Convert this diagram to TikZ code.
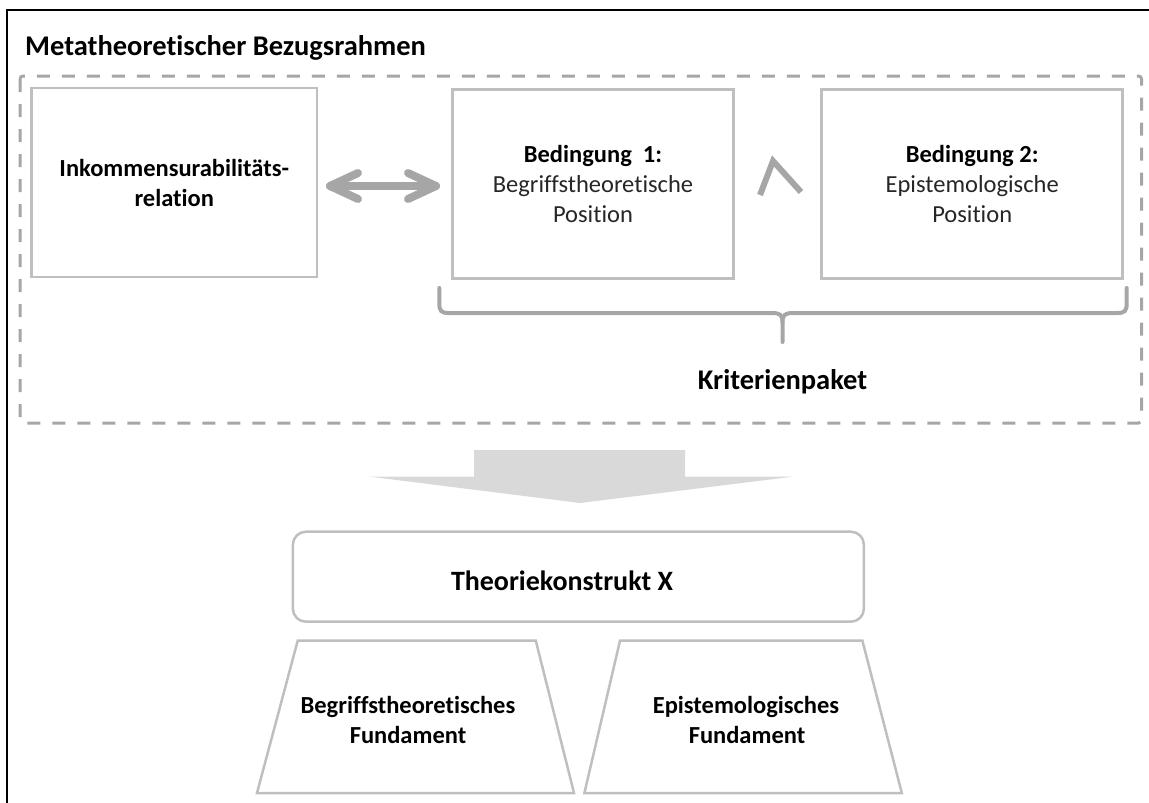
\documentclass[tikz,border=0pt]{standalone}
\usepackage{fontspec}
\setmainfont{Carlito}[Ligatures=NoCommon]
\usetikzlibrary{calc}
\definecolor{boxgray}{HTML}{BFBFBF}
\definecolor{dashgray}{HTML}{A6A6A6}
\definecolor{arrowfill}{HTML}{D9D9D9}
\definecolor{bodytext}{HTML}{262626}

\begin{document}
\begin{tikzpicture}[x=1pt,y=-1pt,
  box/.style={draw=boxgray,line width=2.5pt,inner sep=0pt,align=center,
    font=\fontsize{24.5}{30}\selectfont},
  shapeline/.style={draw=boxgray,line width=2.5pt,line join=miter},
  marker/.style={draw=dashgray,line cap=round,line join=round},
  label/.style={anchor=base,inner sep=0pt,font=\bfseries\fontsize{24.5}{30}\selectfont},
  headline/.style={anchor=base west,inner sep=0pt,font=\bfseries\fontsize{28.5}{34}\selectfont}
]
\useasboundingbox (0,0) rectangle (1149,803);
\clip (0,0) rectangle (1149,803);

% outer frame
\draw[black,line width=2pt] (7,10) rectangle (1200,850);

% title
\node[headline] (title) at (25,55) {Metatheoretischer Bezugsrahmen};

% dashed frame of the reference framework
\draw[dashgray,line width=3pt,dash pattern=on 13pt off 12pt,rounded corners=3pt]
  (20,76) rectangle (1141.5,423);

% the three boxes
\node[box,minimum width=285.5pt,minimum height=189pt] (inkomm) at (174.25,182.5)
  {\bfseries Inkommensurabilitäts-\\\bfseries relation};
\node[box,minimum width=280.6pt,minimum height=189pt] (bed1) at (593,184)
  {\bfseries Bedingung\ \ 1:\\{\color{bodytext}Begriffstheoretische}\\{\color{bodytext}Position}};
\node[box,minimum width=301pt,minimum height=189pt] (bed2) at (972.2,184)
  {\bfseries Bedingung 2:\\{\color{bodytext}Epistemologische}\\{\color{bodytext}Position}};

% double arrow between relation and first condition
\coordinate (dl) at (330,186);
\coordinate (dr) at (436,186);
\draw[marker,line width=8pt] (dl) -- (dr);
\draw[marker,line width=8pt] ($(dl)+(28,-13)$) -- (dl) -- ($(dl)+(28,13)$);
\draw[marker,line width=8pt] ($(dr)+(-28,-13)$) -- (dr) -- ($(dr)+(-28,13)$);

% logical and between the two conditions
\coordinate (wl) at (760,195);
\coordinate (wt) at (773,161);
\coordinate (wr) at (801,192);
\draw[dashgray,line width=6pt,line join=miter] (wl) -- (wt) -- (wr);

% brace below both conditions
\coordinate (bl) at (439.3,288);
\coordinate (br) at (1126.7,288);
\coordinate (bt) at (782.5,342);
\draw[dashgray,line width=4pt,line cap=round]
  (bl) -- (439.3,303) .. controls (439.3,311) and (441,313) .. (449,313)
  -- (772,313) .. controls (780,313) and (782.5,315) .. (782.5,322) -- (bt);
\draw[dashgray,line width=4pt,line cap=round]
  (br) -- (1126.7,303) .. controls (1126.7,311) and (1125,313) .. (1117,313)
  -- (793,313) .. controls (785,313) and (782.5,315) .. (782.5,322);
\node[label,font=\bfseries\fontsize{28.5}{34}\selectfont] (krit) at (782.5,389.3) {Kriterienpaket};

% block arrow down to the construct
\fill[arrowfill] (474,450) -- (685,450) -- (685,476.7) -- (793,476.7)
  -- (580,503) -- (370,476.7) -- (474,476.7) -- cycle;

% theory construct
\node[draw=boxgray,line width=2.5pt,rounded corners=13pt,inner sep=0pt,
  minimum width=571pt,minimum height=90pt] (theorie) at (578.4,576.7) {};
\node[label,font=\bfseries\fontsize{28}{34}\selectfont] (theorietext) at (562,590) {Theoriekonstrukt X};

% the two foundations
\coordinate (f1a) at (257,793);
\coordinate (f1b) at (297.7,640.7);
\coordinate (f1c) at (535.8,640.7);
\coordinate (f1d) at (574,793);
\draw[shapeline] (f1a) -- (f1b) -- (f1c) -- (f1d) -- cycle;
\coordinate (f2a) at (584.4,793);
\coordinate (f2b) at (620,640.7);
\coordinate (f2c) at (862.4,640.7);
\coordinate (f2d) at (901.8,793);
\draw[shapeline] (f2a) -- (f2b) -- (f2c) -- (f2d) -- cycle;

\node[label] (fund1a) at (408,713) {Begriffstheoretisches};
\node[label] (fund1b) at (408,743) {Fundament};
\node[label] (fund2a) at (746,713) {Epistemologisches};
\node[label] (fund2b) at (747,743) {Fundament};
\end{tikzpicture}
\end{document}
